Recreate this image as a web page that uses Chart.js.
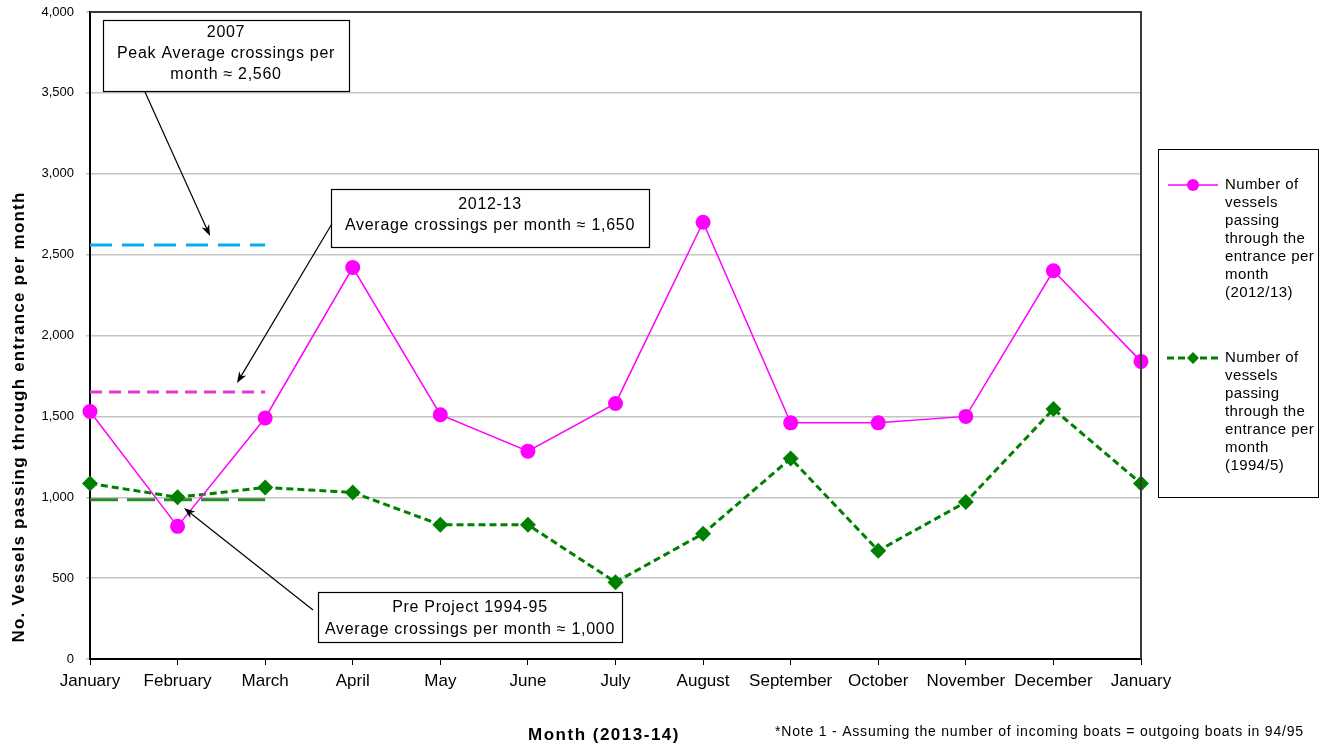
<!DOCTYPE html>
<html>
<head>
<meta charset="utf-8">
<script src="https://cdn.jsdelivr.net/npm/chart.js@4.4.1/dist/chart.umd.min.js"></script>
<style>
  body { margin: 0; background: #fff; }
  canvas { display: block; }
</style>
</head>
<body>
<canvas id="vesselChart" width="1330" height="746"></canvas>
<script>
// categories and values
const months = ['January', 'February', 'March', 'April', 'May', 'June', 'July',
  'August', 'September', 'October', 'November', 'December', 'January'];
const vessels2012 = [1530, 820, 1490, 2420, 1510, 1285, 1580, 2700, 1460, 1460, 1500, 2400, 1840];
const vessels1994 = [1085, 1000, 1060, 1030, 830, 830, 475, 775, 1240, 670, 970, 1545, 1085];
// reference averages, drawn January to March
const peak2007 = [2560, 2560, 2560];
const avg2012 = [1650, 1650, 1650];
const avg1994 = [985, 985, 985];
const yTicks = [0, 500, 1000, 1500, 2000, 2500, 3000, 3500, 4000];

const FONT = "'Liberation Sans', Arial, sans-serif";

function arrow(ctx, x1, y1, x2, y2) {
  const a = Math.atan2(y2 - y1, x2 - x1);
  ctx.beginPath();
  ctx.moveTo(x1, y1);
  ctx.lineTo(x2 - 6 * Math.cos(a), y2 - 6 * Math.sin(a));
  ctx.stroke();
  ctx.beginPath();
  ctx.moveTo(x2, y2);
  ctx.lineTo(x2 - 12 * Math.cos(a - 0.35), y2 - 12 * Math.sin(a - 0.35));
  ctx.lineTo(x2 - 8 * Math.cos(a), y2 - 8 * Math.sin(a));
  ctx.lineTo(x2 - 12 * Math.cos(a + 0.35), y2 - 12 * Math.sin(a + 0.35));
  ctx.closePath();
  ctx.fill();
}

function textBox(ctx, x, y, w, h, lines, lineYs) {
  ctx.fillStyle = '#fff';
  ctx.fillRect(x, y, w, h);
  ctx.strokeStyle = '#000';
  ctx.lineWidth = 1.2;
  ctx.strokeRect(x + 0.5, y + 0.5, w, h);
  ctx.fillStyle = '#000';
  ctx.font = '16px ' + FONT;
  ctx.letterSpacing = '0.7px';
  ctx.textAlign = 'center';
  ctx.textBaseline = 'middle';
  lines.forEach((t, i) => ctx.fillText(t, x + w / 2, lineYs[i]));
  ctx.letterSpacing = '0px';
}

const decorations = {
  id: 'decorations',
  afterDatasetsDraw(chart) {
    const ctx = chart.ctx;
    const area = chart.chartArea;
    ctx.save();

    // top and right frame of the plot
    ctx.strokeStyle = '#3a3a3a';
    ctx.lineWidth = 2;
    ctx.beginPath();
    ctx.moveTo(area.left, area.top);
    ctx.lineTo(area.right, area.top);
    ctx.lineTo(area.right, area.bottom);
    ctx.stroke();

    // arrows
    ctx.strokeStyle = '#000';
    ctx.fillStyle = '#000';
    ctx.lineWidth = 1.2;
    arrow(ctx, 145, 92, 210, 236);
    arrow(ctx, 333, 222, 237, 383);
    arrow(ctx, 313, 610, 184, 508);

    // annotation boxes
    textBox(ctx, 103, 20, 246, 71, ['2007', 'Peak Average crossings per', 'month \u2248 2,560'], [33, 54, 75]);
    textBox(ctx, 331, 189, 318, 58, ['2012-13', 'Average crossings per month \u2248 1,650'], [205, 226]);
    textBox(ctx, 318, 592, 304, 50, ['Pre Project 1994-95', 'Average crossings per month \u2248 1,000'], [608, 630]);

    // legend
    ctx.strokeStyle = '#000';
    ctx.lineWidth = 1;
    ctx.strokeRect(1158.5, 149.5, 160, 348);
    ctx.strokeStyle = '#ff00ff';
    ctx.lineWidth = 1.5;
    ctx.beginPath();
    ctx.moveTo(1168, 185);
    ctx.lineTo(1218, 185);
    ctx.stroke();
    ctx.fillStyle = '#ff00ff';
    ctx.beginPath();
    ctx.arc(1193, 185, 6, 0, Math.PI * 2);
    ctx.fill();

    ctx.strokeStyle = '#008000';
    ctx.lineWidth = 3;
    ctx.setLineDash([7, 4]);
    ctx.beginPath();
    ctx.moveTo(1167, 358);
    ctx.lineTo(1219, 358);
    ctx.stroke();
    ctx.setLineDash([]);
    ctx.fillStyle = '#008000';
    ctx.beginPath();
    ctx.moveTo(1193, 352);
    ctx.lineTo(1199, 358);
    ctx.lineTo(1193, 364);
    ctx.lineTo(1187, 358);
    ctx.closePath();
    ctx.fill();

    ctx.fillStyle = '#000';
    ctx.font = '15px ' + FONT;
    ctx.letterSpacing = '0.4px';
    ctx.textAlign = 'left';
    ctx.textBaseline = 'middle';
    const legendA = ['Number of', 'vessels', 'passing', 'through the', 'entrance per', 'month', '(2012/13)'];
    const legendB = ['Number of', 'vessels', 'passing', 'through the', 'entrance per', 'month', '(1994/5)'];
    legendA.forEach((t, i) => ctx.fillText(t, 1225, 185 + i * 18));
    legendB.forEach((t, i) => ctx.fillText(t, 1225, 358 + i * 18));

    // axis titles and note
    ctx.font = 'bold 17px ' + FONT;
    ctx.letterSpacing = '1.5px';
    ctx.textAlign = 'center';
    ctx.fillText('Month (2013-14)', 604, 735);

    ctx.save();
    ctx.translate(19, 417);
    ctx.rotate(-Math.PI / 2);
    ctx.letterSpacing = '1.2px';
    ctx.font = 'bold 17px ' + FONT;
    ctx.fillText('No. Vessels passing through entrance per month', 0, 0);
    ctx.restore();

    ctx.font = '14px ' + FONT;
    ctx.letterSpacing = '0.8px';
    ctx.textAlign = 'left';
    ctx.fillText('*Note 1 - Assuming the number of incoming boats = outgoing boats in 94/95', 775, 732);
    ctx.letterSpacing = '0px';

    ctx.restore();
  }
};

const ctx = document.getElementById('vesselChart').getContext('2d');
new Chart(ctx, {
  type: 'line',
  data: {
    labels: months,
    datasets: [
      {
        label: 'Number of vessels passing through the entrance per month (2012/13)',
        data: vessels2012,
        borderColor: '#ff00ff',
        backgroundColor: '#ff00ff',
        borderWidth: 1.5,
        pointStyle: 'circle',
        pointRadius: 7.5,
        pointBorderWidth: 0,
        tension: 0,
        clip: false
      },
      {
        label: 'Number of vessels passing through the entrance per month (1994/5)',
        data: vessels1994,
        borderColor: '#008000',
        backgroundColor: '#008000',
        borderWidth: 3,
        borderDash: [7, 4],
        pointStyle: 'rectRot',
        pointRadius: 8,
        pointBorderWidth: 0,
        tension: 0,
        clip: false
      },
      {
        label: '2007 peak average',
        data: peak2007,
        borderColor: '#00b0f0',
        borderWidth: 3,
        borderDash: [22, 10],
        pointRadius: 0
      },
      {
        label: '2012-13 average',
        data: avg2012,
        borderColor: '#e23ad2',
        borderWidth: 3,
        borderDash: [12, 7],
        pointRadius: 0
      },
      {
        label: '1994-95 average',
        data: avg1994,
        borderColor: '#2a8a2a',
        borderWidth: 3,
        borderDash: [28, 9],
        pointRadius: 0
      }
    ]
  },
  options: {
    responsive: false,
    animation: false,
    devicePixelRatio: 1,
    layout: { padding: { top: 12, right: 189, left: 0, bottom: 0 } },
    plugins: {
      legend: { display: false },
      tooltip: { enabled: false }
    },
    scales: {
      x: {
        offset: false,
        afterFit: (scale) => { scale.height = 87; },
        grid: { drawOnChartArea: false, drawTicks: true, tickLength: 6, tickColor: '#000', lineWidth: 1 },
        border: { color: '#000', width: 2 },
        ticks: { color: '#000', font: { family: FONT, size: 17 }, padding: 6, maxRotation: 0, autoSkip: false }
      },
      y: {
        min: 0,
        max: 4000,
        afterFit: (scale) => {
          scale.width = 90;
          scale.paddingTop = 0;
          scale.paddingBottom = 0;
        },
        afterBuildTicks: (scale) => { scale.ticks = yTicks.map(v => ({ value: v })); },
        grid: { color: '#c4c4c4', lineWidth: 1.5, tickLength: 4 },
        border: { color: '#000', width: 2 },
        ticks: {
          color: '#000',
          font: { family: FONT, size: 13 },
          padding: 12,
          callback: (v) => v.toLocaleString('en-US')
        }
      }
    }
  },
  plugins: [decorations]
});
</script>
</body>
</html>
